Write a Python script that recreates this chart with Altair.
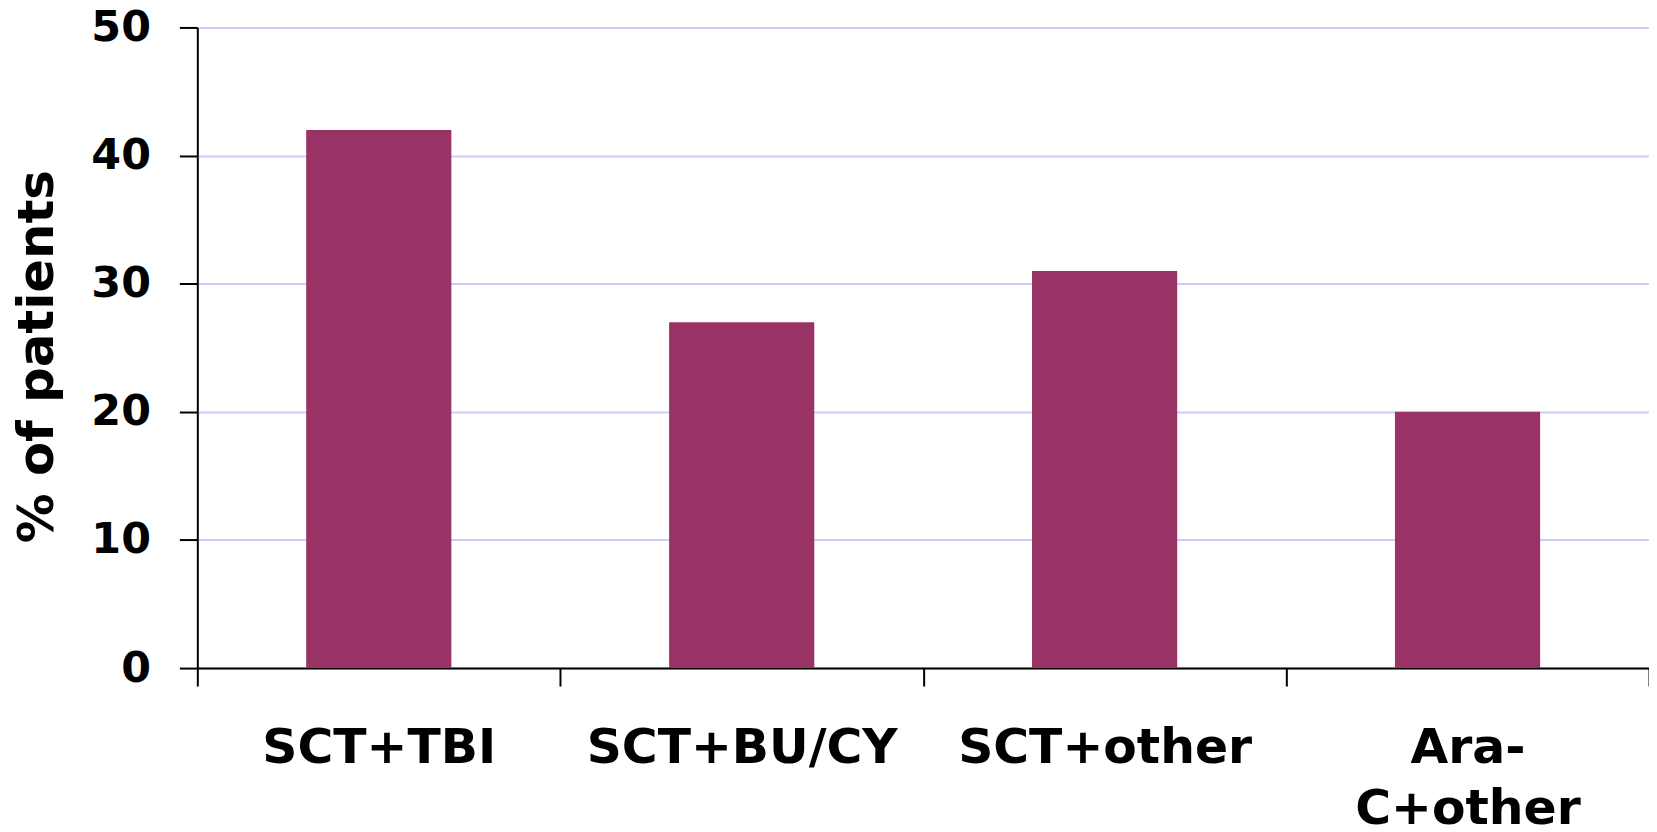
import altair as alt
import pandas as pd

categories = ["SCT+TBI", "SCT+BU/CY", "SCT+other", "Ara-C+other"]
percent = [42, 27, 31, 20]
y_ticks = [0, 10, 20, 30, 40, 50]

df = pd.DataFrame({"regimen": categories, "pct": percent})

FONT = "DejaVu Sans"

chart = alt.Chart(df).mark_bar(
    color="#993366", width=alt.RelativeBandSize(0.4)
).encode(
    x=alt.X(
        "regimen:N",
        sort=categories,
        scale=alt.Scale(paddingInner=0, paddingOuter=0),
        axis=alt.Axis(
            title=None,
            labelAngle=0,
            tickBand="extent",
            labelFont=FONT,
            labelFontWeight="bold",
            labelFontSize=49,
            labelColor="black",
            labelPadding=38,
            labelLimit=0,
            labelLineHeight=61,
            labelExpr="datum.label == 'Ara-C+other' ? ['Ara-', 'C+other'] : datum.label",
            tickSize=18,
            tickColor="black",
            tickWidth=2,
            domainColor="black",
            domainWidth=2,
            grid=False,
        ),
    ),
    y=alt.Y(
        "pct:Q",
        scale=alt.Scale(domain=[0, 50], nice=False),
        axis=alt.Axis(
            values=y_ticks,
            title="% of patients",
            titleFont=FONT,
            titleFontWeight="bold",
            titleFontSize=50,
            titleColor="black",
            titleAngle=270,
            titleAlign="center",
            titleBaseline="middle",
            titleX=-160,
            titleY=330,
            labelFont=FONT,
            labelFontWeight="bold",
            labelFontSize=43,
            labelColor="black",
            labelPadding=29,
            tickSize=18,
            tickColor="black",
            tickWidth=2,
            domainColor="black",
            domainWidth=2,
            grid=True,
            gridColor="#CCCCFF",
            gridWidth=2,
        ),
    ),
).properties(
    width=1457,
    height=643,
    padding={"left": 190, "top": 18, "right": 0, "bottom": 163},
    autosize=alt.AutoSizeParams(type="none"),
).configure_view(stroke=None)

chart.save("out.html", embed_options={"renderer": "svg", "actions": False})
